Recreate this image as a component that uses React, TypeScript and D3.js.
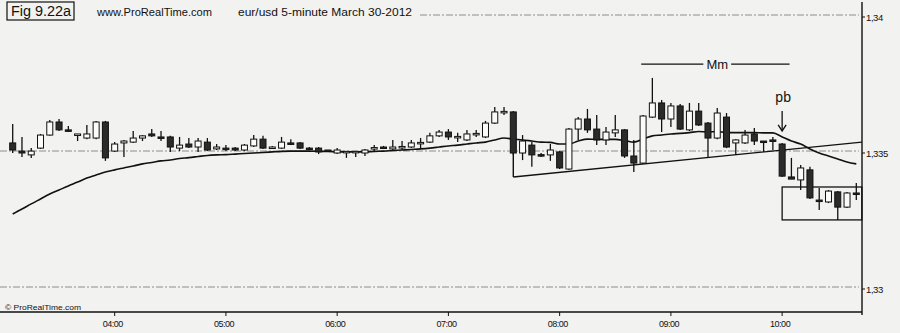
import React from "react";
import * as d3 from "d3";

const W = 900;
const H = 333;

// bar times: first bar 03:05, 5-minute bars
const START_TIME = "03:05";
const STEP_MIN = 5;
const HOUR_TICKS = ["04:00", "05:00", "06:00", "07:00", "08:00", "09:00", "10:00"];
const PRICE_TICKS = [1.33, 1.335, 1.34];
const PRICE_LABELS = ["1,33", "1,335", "1,34"];

const OPEN = [
  1.33537, 1.33507, 1.33493, 1.33518, 1.33566, 1.33614, 1.33585, 1.33566, 1.33555, 1.33555,
  1.33614, 1.33507, 1.33537, 1.3354, 1.33555, 1.3357, 1.33559, 1.33559, 1.33518, 1.33533,
  1.33522, 1.3354, 1.33515, 1.33518, 1.33518, 1.33511, 1.33526, 1.33551, 1.33518, 1.33518,
  1.33537, 1.33537, 1.33518, 1.33518, 1.33511, 1.335, 1.33504, 1.33504, 1.335, 1.33518,
  1.33522, 1.33515, 1.33522, 1.33522, 1.33537, 1.3354, 1.33563, 1.33577, 1.33559, 1.33548,
  1.3357, 1.33559, 1.3361, 1.33651, 1.33651, 1.335, 1.33529, 1.33494, 1.33493, 1.33504,
  1.33441, 1.33588, 1.33625, 1.33588, 1.33548, 1.33574, 1.33585, 1.33489, 1.33463, 1.33632,
  1.33684, 1.33625, 1.33673, 1.33585, 1.33654, 1.3361, 1.33555, 1.33632, 1.33537, 1.33537,
  1.3357, 1.33544, 1.33548, 1.33533, 1.33412, 1.33401, 1.33438, 1.33327, 1.3332, 1.33357,
  1.33301, 1.33353,
];
const HIGH = [
  1.33607, 1.33559, 1.33518, 1.3357, 1.33621, 1.33625, 1.33599, 1.3357, 1.33603, 1.33618,
  1.33618, 1.3354, 1.33548, 1.33581, 1.33566, 1.33588, 1.33581, 1.33563, 1.33559, 1.33555,
  1.33555, 1.33555, 1.33533, 1.33529, 1.33522, 1.33533, 1.33566, 1.33563, 1.33526, 1.33559,
  1.33551, 1.3354, 1.33522, 1.33522, 1.33511, 1.33518, 1.33507, 1.33507, 1.33515, 1.33529,
  1.33526, 1.33548, 1.33544, 1.33548, 1.33555, 1.33574, 1.33585, 1.33588, 1.33574, 1.33585,
  1.33585, 1.33618, 1.33669, 1.33669, 1.33654, 1.33566, 1.3354, 1.335, 1.33533, 1.33507,
  1.33592, 1.33632, 1.33662, 1.3364, 1.33596, 1.3364, 1.33588, 1.33548, 1.3364, 1.33776,
  1.33695, 1.33684, 1.3368, 1.33684, 1.33684, 1.33614, 1.33665, 1.33647, 1.33551, 1.33585,
  1.33592, 1.33544, 1.33559, 1.33537, 1.33482, 1.33456, 1.33449, 1.33371, 1.33364, 1.3336,
  1.33357, 1.3339,
];
const LOW = [
  1.335, 1.33485, 1.33482, 1.33515, 1.33563, 1.33581, 1.33577, 1.33544, 1.33551, 1.33551,
  1.33471, 1.33504, 1.33485, 1.33537, 1.33544, 1.33559, 1.33544, 1.33504, 1.33507, 1.33518,
  1.33504, 1.33507, 1.33511, 1.33507, 1.33507, 1.33507, 1.33522, 1.33515, 1.33515, 1.33515,
  1.33529, 1.33515, 1.33511, 1.33496, 1.33504, 1.33496, 1.33482, 1.33485, 1.33489, 1.33507,
  1.33515, 1.33511, 1.33511, 1.33518, 1.33518, 1.33537, 1.33559, 1.33548, 1.3354, 1.33544,
  1.33559, 1.33555, 1.33607, 1.3364, 1.33493, 1.33474, 1.33449, 1.33485, 1.33471, 1.33441,
  1.33438, 1.33548, 1.33574, 1.33529, 1.33529, 1.33559, 1.33482, 1.3343, 1.3346, 1.33629,
  1.33577, 1.33596, 1.33585, 1.33581, 1.33599, 1.33485, 1.33551, 1.33518, 1.33493, 1.33533,
  1.33529, 1.33504, 1.33511, 1.33412, 1.33404, 1.33364, 1.33331, 1.3329, 1.33316, 1.33254,
  1.33298, 1.33327,
];
const CLOSE = [
  1.33511, 1.335, 1.33507, 1.33566, 1.33614, 1.33585, 1.33581, 1.3357, 1.3357, 1.33614,
  1.33482, 1.33533, 1.33544, 1.33555, 1.33563, 1.33563, 1.33555, 1.33522, 1.33529, 1.33522,
  1.33544, 1.33511, 1.33522, 1.33517, 1.33511, 1.33529, 1.33551, 1.33518, 1.33522, 1.3354,
  1.33533, 1.33518, 1.33515, 1.33504, 1.33507, 1.33511, 1.33506, 1.33506, 1.33511, 1.3352,
  1.33517, 1.33522, 1.33524, 1.33537, 1.33539, 1.33563, 1.33577, 1.33559, 1.33561, 1.3357,
  1.33572, 1.3361, 1.33651, 1.33653, 1.335, 1.33544, 1.33493, 1.33493, 1.33511, 1.33445,
  1.33588, 1.33625, 1.33585, 1.33548, 1.33577, 1.33585, 1.33489, 1.33463, 1.33636, 1.33684,
  1.33625, 1.33673, 1.33588, 1.33654, 1.33603, 1.33555, 1.33647, 1.33522, 1.33548, 1.33566,
  1.33544, 1.3354, 1.33546, 1.33415, 1.33404, 1.33445, 1.33335, 1.33325, 1.3336, 1.33301,
  1.33353, 1.33351,
];
// moving average
const MA = [
  1.33276, 1.33294, 1.33313, 1.33331, 1.33349, 1.33364, 1.33379, 1.33393, 1.33408, 1.33419,
  1.3343, 1.33438, 1.33445, 1.33452, 1.3346, 1.33465, 1.33471, 1.33474, 1.3348, 1.33483,
  1.33487, 1.33491, 1.33493, 1.33494, 1.33496, 1.33498, 1.335, 1.33502, 1.33504, 1.33506,
  1.33507, 1.33507, 1.33507, 1.33506, 1.33506, 1.33504, 1.33504, 1.33504, 1.33504, 1.33506,
  1.33507, 1.33509, 1.33511, 1.33513, 1.33515, 1.33518, 1.33522, 1.33526, 1.33529, 1.33533,
  1.33537, 1.3354, 1.33548, 1.33555, 1.33551, 1.33548, 1.33544, 1.3354, 1.33539, 1.33533,
  1.33533, 1.33544, 1.33551, 1.3355, 1.3355, 1.3355, 1.33546, 1.3354, 1.33551, 1.33563,
  1.33566, 1.3357, 1.33572, 1.33575, 1.33579, 1.33577, 1.33579, 1.33575, 1.33575, 1.33575,
  1.33575, 1.33574, 1.33574, 1.33559, 1.33544, 1.33533, 1.33515, 1.335, 1.33489, 1.33478,
  1.33467, 1.3346,
];

// annotations (bar index, price)
const TREND_IDX = [54, 91.6];
const TREND_PRICE = [1.33412, 1.3354];
const TREND_START_TOP = 1.335;
const BOX_IDX = [83, 91.6];
const BOX_PRICE = [1.33375, 1.33254];
const MM_LINE_IDX = [67.8, 74.5, 77.5, 83.8];
const MM_PRICE = 1.33827;
const PB_IDX = 83;
const PB_ARROW_PRICE = [1.33654, 1.33581];
const PB_TEXT_PRICE = 1.33688;

const toMin = (s: string) => {
  const [h, m] = s.split(":").map(Number);
  return h * 60 + m;
};

const FONT = "'Liberation Sans', Arial, sans-serif";

export default function App() {
  const n = OPEN.length;
  const x = d3.scaleLinear().domain([0, n - 1]).range([12.7, 856.3]);
  const y = d3.scaleLinear().domain([1.33, 1.34]).range([289, 17]);
  const axisX = 862;
  const axisY = 312;
  const bw = 6;

  const maLine = d3
    .line<number>()
    .x((_, i) => x(i))
    .y((d) => y(d))
    .curve(d3.curveMonotoneX)(MA) as string;

  const startMin = toMin(START_TIME);
  const hourIdx = HOUR_TICKS.map((t) => (toMin(t) - startMin) / STEP_MIN);

  const gridColor = "#555";

  return (
    <svg
      width={W}
      height={H}
      style={{ position: "absolute", left: 0, top: 0 }}
      fontFamily={FONT}
    >
      <rect x={0} y={0} width={W} height={H} fill="#f2f2f0" />

      {/* price grid lines */}
      {PRICE_TICKS.map((p, k) => (
        <line
          key={"g" + k}
          x1={p === 1.34 ? 420 : 0}
          x2={axisX - 3}
          y1={y(p) - 2}
          y2={y(p) - 2}
          stroke={gridColor}
          strokeWidth={0.8}
          strokeDasharray="7,2,2,2"
          opacity={0.8}
        />
      ))}

      {/* moving average */}
      <path d={maLine} fill="none" stroke="#111" strokeWidth={1.6} />

      {/* Mm trend line and box */}
      <line
        x1={x(TREND_IDX[0])}
        x2={x(TREND_IDX[0])}
        y1={y(TREND_START_TOP)}
        y2={y(TREND_PRICE[0])}
        stroke="#111"
        strokeWidth={1.4}
      />
      <line
        x1={x(TREND_IDX[0])}
        x2={x(TREND_IDX[1])}
        y1={y(TREND_PRICE[0])}
        y2={y(TREND_PRICE[1])}
        stroke="#111"
        strokeWidth={1.4}
      />
      <rect
        x={x(BOX_IDX[0])}
        y={y(BOX_PRICE[0])}
        width={x(BOX_IDX[1]) - x(BOX_IDX[0])}
        height={y(BOX_PRICE[1]) - y(BOX_PRICE[0])}
        fill="none"
        stroke="#111"
        strokeWidth={1.3}
      />

      {/* candles */}
      {OPEN.map((o, i) => {
        const c = CLOSE[i];
        const up = c >= o;
        const top = y(Math.max(o, c));
        const bot = y(Math.min(o, c));
        const h = Math.max(bot - top, 1.5);
        const cx = x(i);
        return (
          <g key={i}>
            <line
              x1={cx}
              x2={cx}
              y1={y(HIGH[i])}
              y2={y(LOW[i])}
              stroke="#111"
              strokeWidth={1.3}
            />
            <rect
              x={cx - bw / 2}
              y={top}
              width={bw}
              height={h}
              fill={up ? "#fbfbfa" : "#2b2b2b"}
              stroke="#111"
              strokeWidth={1}
            />
          </g>
        );
      })}

      {/* Mm label */}
      <line
        x1={x(MM_LINE_IDX[0])}
        x2={x(MM_LINE_IDX[1])}
        y1={y(MM_PRICE)}
        y2={y(MM_PRICE)}
        stroke="#111"
        strokeWidth={1.2}
      />
      <line
        x1={x(MM_LINE_IDX[2])}
        x2={x(MM_LINE_IDX[3])}
        y1={y(MM_PRICE)}
        y2={y(MM_PRICE)}
        stroke="#111"
        strokeWidth={1.2}
      />
      <text
        x={(x(MM_LINE_IDX[1]) + x(MM_LINE_IDX[2])) / 2}
        y={y(MM_PRICE) + 5}
        fontSize={13}
        textAnchor="middle"
        fill="#111"
      >
        Mm
      </text>

      {/* pb label and arrow */}
      <text
        x={x(PB_IDX) + 1}
        y={y(PB_TEXT_PRICE)}
        fontSize={14}
        textAnchor="middle"
        fill="#111"
      >
        pb
      </text>
      <line
        x1={x(PB_IDX)}
        x2={x(PB_IDX)}
        y1={y(PB_ARROW_PRICE[0])}
        y2={y(PB_ARROW_PRICE[1])}
        stroke="#111"
        strokeWidth={1.3}
      />
      <path
        d={`M${x(PB_IDX) - 4},${y(PB_ARROW_PRICE[1]) - 6} L${x(PB_IDX)},${y(
          PB_ARROW_PRICE[1]
        )} L${x(PB_IDX) + 4},${y(PB_ARROW_PRICE[1]) - 6}`}
        fill="none"
        stroke="#111"
        strokeWidth={1.3}
      />

      {/* axes */}
      <line x1={axisX} x2={axisX} y1={2} y2={axisY + 3} stroke="#111" strokeWidth={1.4} />
      <line x1={0} x2={axisX} y1={axisY} y2={axisY} stroke="#111" strokeWidth={1.6} />
      {PRICE_TICKS.map((p, k) => (
        <g key={"pt" + k}>
          <line x1={axisX} x2={axisX + 3} y1={y(p)} y2={y(p)} stroke="#111" strokeWidth={1} />
          <text x={axisX + 4} y={y(p) + 3.5} fontSize={9.5} fill="#111" letterSpacing={-0.4}>
            {PRICE_LABELS[k]}
          </text>
        </g>
      ))}
      {hourIdx.map((i, k) => (
        <g key={"ht" + k}>
          <line x1={x(i)} x2={x(i)} y1={axisY} y2={axisY + 4} stroke="#111" strokeWidth={1} />
          <text
            x={x(i) - 2}
            y={axisY + 15}
            fontSize={9}
            textAnchor="middle"
            fill="#111"
            letterSpacing={-0.5}
          >
            {HOUR_TICKS[k]}
          </text>
        </g>
      ))}

      {/* titles */}
      <rect x={7} y={2} width={67} height={18} fill="none" stroke="#111" strokeWidth={1.2} />
      <text x={11} y={16} fontSize={14} fill="#111" textLength={60} lengthAdjust="spacingAndGlyphs">
        Fig 9.22a
      </text>
      <text x={97} y={16} fontSize={11} fill="#111" textLength={115} lengthAdjust="spacingAndGlyphs">
        www.ProRealTime.com
      </text>
      <text x={238} y={16} fontSize={11} fill="#111" textLength={174} lengthAdjust="spacingAndGlyphs">
        eur/usd  5-minute  March 30-2012
      </text>
      <text x={5} y={310} fontSize={8} fill="#111" textLength={76} lengthAdjust="spacingAndGlyphs">
        © ProRealTime.com
      </text>
    </svg>
  );
}
